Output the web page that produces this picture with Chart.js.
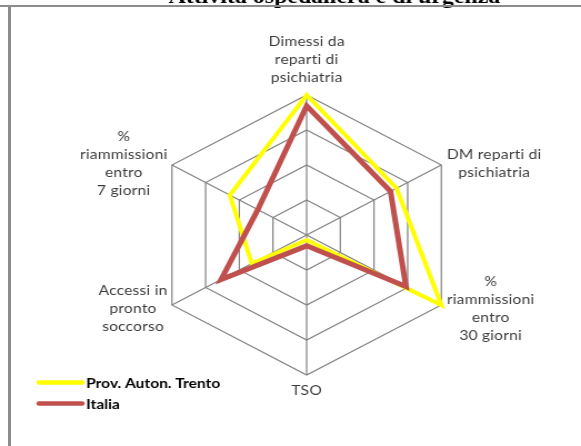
<!DOCTYPE html>
<html>
<head>
<meta charset="utf-8">
<script src="https://cdn.jsdelivr.net/npm/chart.js@4"></script>
<style>
  html, body { margin: 0; padding: 0; background: #fff; }
  #page { position: relative; width: 581px; height: 446px; overflow: hidden; }
  /* il grafico originale è leggermente allargato in orizzontale */
  #wrap { position: absolute; left: 0; top: 0; width: 523px; height: 446px; transform: scaleX(1.111); transform-origin: 0 0; }
  .frame { position: absolute; background: #8c8c8c; }
</style>
</head>
<body>
<div id="page">
  <div id="wrap"><canvas id="radar"></canvas></div>
  <div class="frame" style="left:0;top:5px;width:581px;height:2px"></div>
  <div class="frame" style="left:8px;top:5px;width:3px;height:441px"></div>
</div>
<script>
const titolo = 'Attività ospedaliera e di urgenza';
const categorie = [
  ['Dimessi da', 'reparti di', 'psichiatria'],
  ['DM reparti di', 'psichiatria'],
  ['%', 'riammissioni', 'entro', '30 giorni'],
  ['TSO'],
  ['Accessi in', 'pronto', 'soccorso'],
  ['%', 'riammissioni', 'entro', '7 giorni']
];
const serie = ['Prov. Auton. Trento', 'Italia'];
const trento = [4.0, 2.67, 4.0, 0.14, 1.63, 2.28];
const italia = [3.69, 2.49, 2.95, 0.31, 2.54, 1.45];
const scalaMax = 4;

// etichette, titolo e legenda disegnati a mano (centrati come in Excel)
const etichette = {
  id: 'etichette',
  afterDraw(chart) {
    const ctx = chart.ctx;
    const s = chart.scales.r;
    const lh = 18;
    ctx.save();
    ctx.letterSpacing = '0.2px'; // niente legature "ti"

    ctx.font = '14px Lato';
    ctx.fillStyle = '#3c3c3c';
    ctx.textAlign = 'center';
    ctx.textBaseline = 'middle';
    categorie.forEach((righe, i) => {
      const p = s.getPointPositionForValue(i, scalaMax);
      const n = righe.length;
      const w = Math.max(...righe.map(t => ctx.measureText(t).width));
      let cx, cy;
      if (Math.abs(p.x - s.xCenter) < 1) {
        cx = p.x;
        cy = p.y < s.yCenter ? p.y - 18 - (n - 1) * lh / 2 : p.y + 15 + (n - 1) * lh / 2;
      } else {
        cx = p.x > s.xCenter ? p.x + 5 + w / 2 : p.x - 4 - w / 2;
        cy = p.y + (p.y > s.yCenter ? 3 : -1.5);
      }
      righe.forEach((t, k) => ctx.fillText(t, cx, cy - (n - 1) * lh / 2 + k * lh));
    });

    ctx.letterSpacing = '0px';
    ctx.fillStyle = '#000';
    ctx.font = 'bold 21.5px "Liberation Serif"';
    ctx.textBaseline = 'alphabetic';
    ctx.fillText(titolo, 301, 3);

    ctx.font = 'bold 14px Lato';
    ctx.textAlign = 'left';
    ctx.textBaseline = 'middle';
    ctx.lineCap = 'round';
    ctx.lineWidth = 4.5;
    chart.data.datasets.forEach((ds, k) => {
      const y = 382.5 + k * 21;
      ctx.strokeStyle = ds.borderColor;
      ctx.beginPath();
      ctx.moveTo(35, y);
      ctx.lineTo(74, y);
      ctx.stroke();
      ctx.fillText(ds.label, 77.5, y + 1);
    });
    ctx.restore();
  }
};

new Chart(document.getElementById('radar'), {
  type: 'radar',
  data: {
    labels: categorie,
    datasets: [
      { label: serie[0], data: trento, borderColor: '#ffff00', borderWidth: 4, order: 1 },
      { label: serie[1], data: italia, borderColor: '#c0504d', borderWidth: 5, order: 0 }
    ]
  },
  options: {
    responsive: true,
    maintainAspectRatio: false,
    animation: false,
    layout: { padding: { left: 136, top: 95, right: 107, bottom: 71 } },
    elements: {
      line: { fill: false, tension: 0, borderJoinStyle: 'miter' },
      point: { radius: 0, hoverRadius: 0 }
    },
    scales: {
      r: {
        min: 0,
        max: scalaMax,
        ticks: { stepSize: 1, display: false },
        grid: { color: '#808080', lineWidth: 1.2 },
        angleLines: { color: '#808080', lineWidth: 1.2 },
        pointLabels: { display: false }
      }
    },
    plugins: { legend: { display: false }, tooltip: { enabled: false } }
  },
  plugins: [etichette]
});
</script>
</body>
</html>
